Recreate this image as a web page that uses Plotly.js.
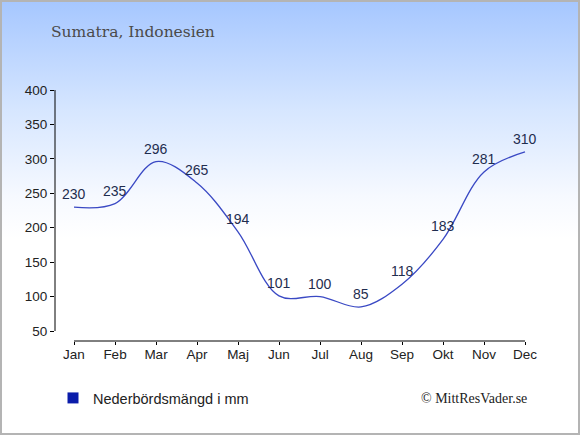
<!DOCTYPE html>
<html>
<head>
<meta charset="utf-8">
<script src="https://cdn.plot.ly/plotly-3.0.1.min.js"></script>
<style>
html,body{margin:0;padding:0;}
#wrap{width:580px;height:435px;box-sizing:border-box;border:2px solid #b4b4b4;
background:linear-gradient(to bottom,#a6c7ff 0%,#d6e6ff 25%,#f6f9ff 45%,#ffffff 55%,#ffffff 100%);position:relative;overflow:hidden;}
#chart{position:absolute;left:-2px;top:-2px;width:580px;height:435px;}
</style>
</head>
<body>
<div id="wrap"><div id="chart"></div></div>
<script>
var months = ["Jan","Feb","Mar","Apr","Maj","Jun","Jul","Aug","Sep","Okt","Nov","Dec"];
var precipitation = [230,235,296,265,194,101,100,85,118,183,281,310];
var yTicks = [50,100,150,200,250,300,350,400];
var seriesName = "Nederbördsmängd i mm";
var titleText = "Sumatra, Indonesien";
var creditText = "© MittResVader.se";

var xIdx = months.map(function(m,i){return i;});
var pad = 19/41;

var traces = [
  {
    x: xIdx, y: precipitation, type: 'scatter', mode: 'lines',
    line: {shape: 'spline', smoothing: 1, color: '#3a49c4', width: 1.3},
    showlegend: false, hoverinfo: 'x+y'
  },
  {
    x: [null], y: [null], type: 'scatter', mode: 'markers', name: seriesName,
    marker: {symbol: 'square', size: 11, color: '#0a1caa'}, showlegend: true
  }
];

var plotL = 55, plotR = 544, plotT = 90, plotB = 341;
function px(x){return (x - plotL)/(plotR - plotL);}
function py(y){return (plotB - y)/(plotB - plotT);}

var annotations = precipitation.map(function(v,i){
  return {x: xIdx[i], y: v, xref: 'x', yref: 'y', text: String(v), showarrow: false,
          yshift: 13, font: {family: 'Liberation Sans, Arial, sans-serif', size: 14, color: '#1f2d4f'}};
});
annotations.push({text: creditText, xref: 'paper', yref: 'paper', x: px(529), xanchor: 'right',
     y: py(398), yanchor: 'middle', showarrow: false,
     font: {family: 'Liberation Serif, Times New Roman, serif', size: 14, color: '#222'}});

var layout = {
  width: 580, height: 435,
  paper_bgcolor: 'rgba(0,0,0,0)', plot_bgcolor: 'rgba(0,0,0,0)',
  margin: {l: plotL, r: 580 - plotR, t: plotT, b: 435 - plotB},
  font: {family: 'Liberation Sans, Arial, sans-serif', size: 14, color: '#222'},
  title: {text: titleText, x: 51/580, xanchor: 'left', xref: 'container',
          y: 1 - 32/435, yanchor: 'middle', yref: 'container',
          font: {family: 'DejaVu Serif, serif', size: 15.5, color: '#4a4a4a'}},
  xaxis: {range: [-pad, 11 + pad], tickmode: 'array', tickvals: xIdx, ticktext: months,
          showgrid: false, zeroline: false, showline: false,
          ticks: 'outside', ticklen: 3, tickcolor: '#000', tickwidth: 1,
          ticklabelstandoff: -2,
          tickfont: {size: 13.5, color: '#222'}, fixedrange: true},
  yaxis: {range: [50 - 10/0.68857, 400], tickmode: 'array', tickvals: yTicks,
          showgrid: false, zeroline: false, showline: false,
          ticks: 'outside', ticklen: 4, tickcolor: '#000', tickwidth: 1,
          tickfont: {size: 13.5, color: '#222'}, fixedrange: true},
  shapes: [
    {type: 'line', xref: 'paper', yref: 'y', x0: 0, x1: 0, y0: 50, y1: 400,
     line: {color: '#000', width: 1}},
    {type: 'line', xref: 'x', yref: 'paper', x0: 0, x1: 11, y0: 0, y1: 0,
     line: {color: '#000', width: 1}}
  ],
  showlegend: true,
  legend: {orientation: 'h', x: 53/580, xref: 'container', xanchor: 'left',
           y: 1 - 398/435, yref: 'container', yanchor: 'middle', itemwidth: 30,
           bgcolor: 'rgba(0,0,0,0)', font: {size: 14.5, color: '#222'}},
  annotations: annotations
};

Plotly.newPlot('chart', traces, layout, {displayModeBar: false, staticPlot: true});
</script>
</body>
</html>
